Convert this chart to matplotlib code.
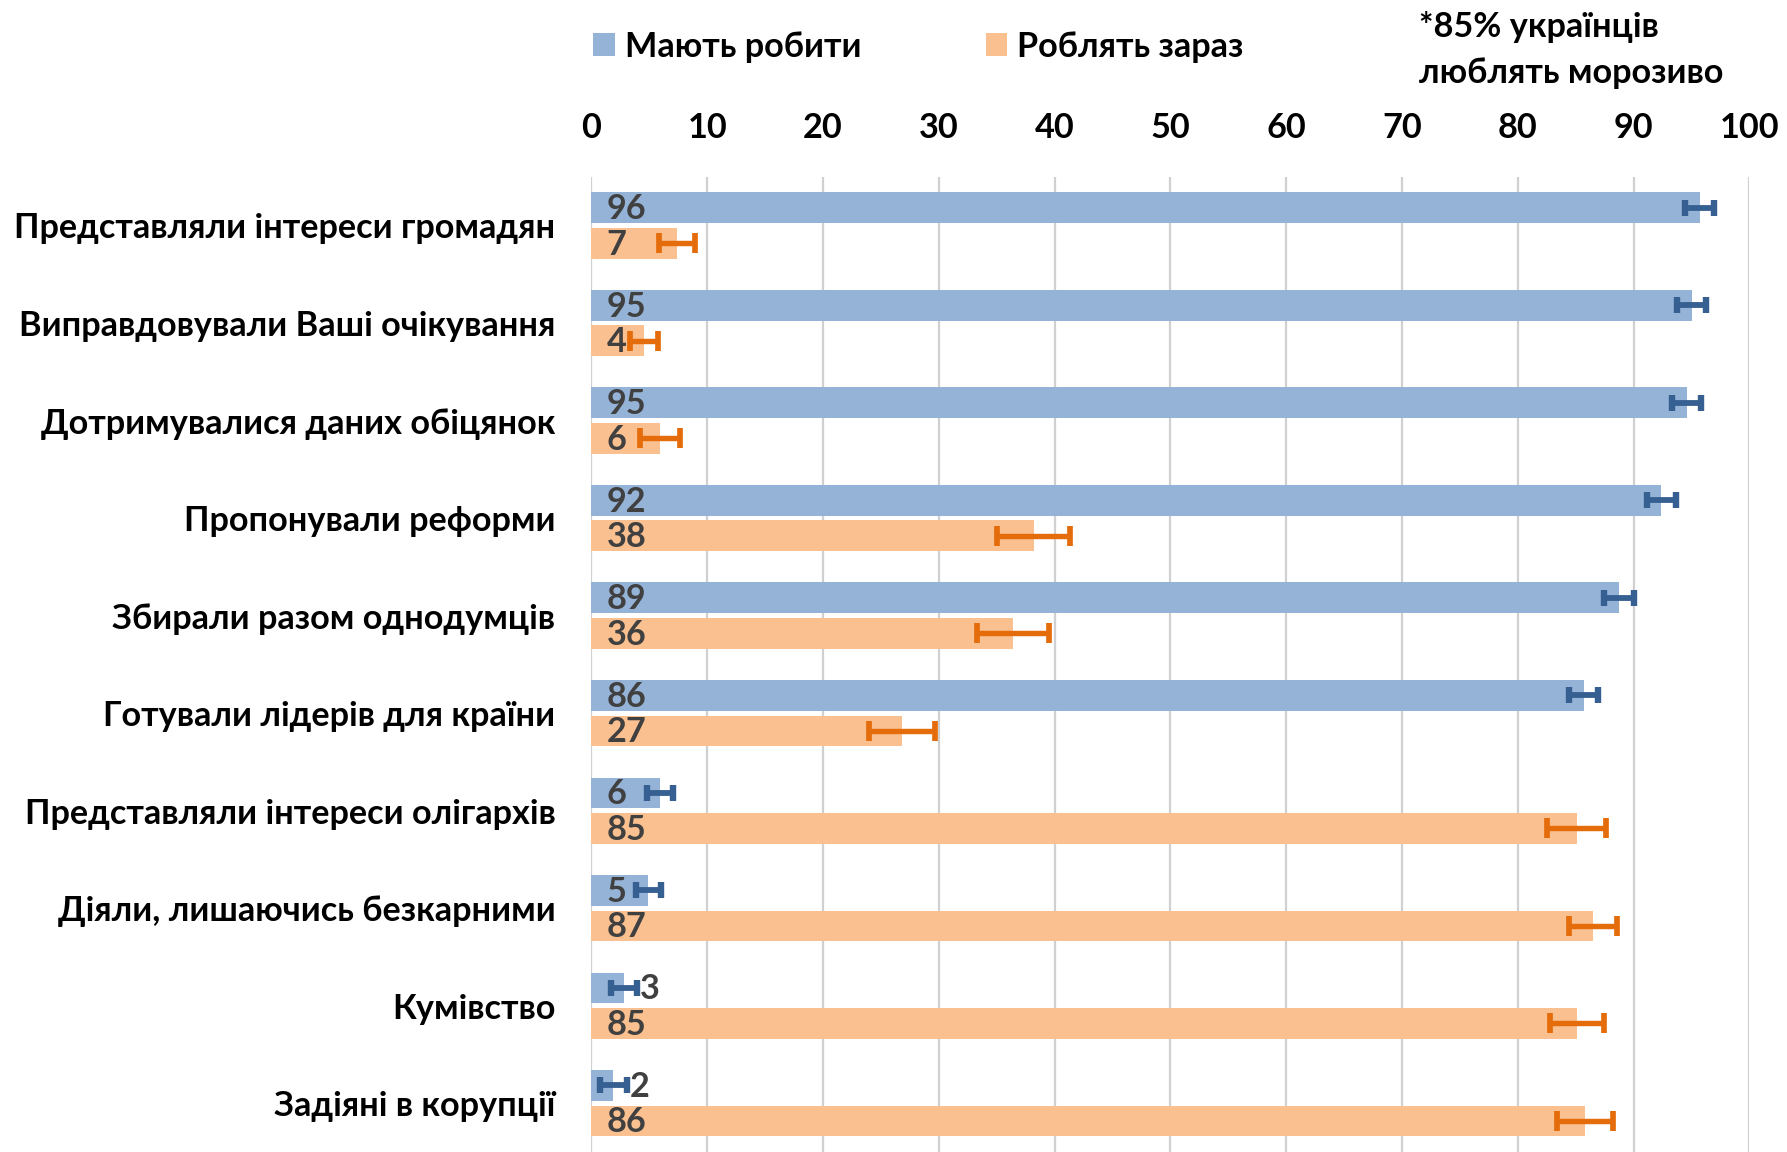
import matplotlib
matplotlib.use("Agg")
import matplotlib.pyplot as plt
import numpy as np
from matplotlib.patches import Patch

plt.rcParams['font.family'] = ['Lato', 'DejaVu Sans']
plt.rcParams['font.weight'] = 'bold'

categories = [
    "Представляли інтереси громадян",
    "Виправдовували Ваші очікування",
    "Дотримувалися даних обіцянок",
    "Пропонували реформи",
    "Збирали разом однодумців",
    "Готували лідерів для країни",
    "Представляли інтереси олігархів",
    "Діяли, лишаючись безкарними",
    "Кумівство",
    "Задіяні в корупції",
]
should = [95.7, 95.0, 94.6, 92.4, 88.7, 85.7, 5.9, 4.9, 2.8, 1.9]
should_err = [1.25, 1.25, 1.25, 1.25, 1.3, 1.25, 1.1, 1.1, 1.15, 1.15]
should_labels = ["96", "95", "95", "92", "89", "86", "6", "5", "3", "2"]
now = [7.4, 4.5, 5.9, 38.2, 36.4, 26.8, 85.1, 86.5, 85.1, 85.8]
now_err = [1.55, 1.2, 1.7, 3.15, 3.1, 2.85, 2.55, 2.05, 2.3, 2.4]
now_labels = ["7", "4", "6", "38", "36", "27", "85", "87", "85", "86"]
series_names = ["Мають робити", "Роблять зараз"]
x_ticks = [0, 10, 20, 30, 40, 50, 60, 70, 80, 90, 100]
note = "*85% українців\nлюблять морозиво"

BLUE = "#95B3D7"
ORANGE = "#FAC090"
BLUE_E = "#376092"
ORANGE_E = "#E46C0A"
TXT = "#404040"

fig = plt.figure(figsize=(17.87, 11.52), dpi=100)
ax = fig.add_axes([0.331, 0.0, 0.648, 0.8466])

y = np.arange(len(categories))
h = 0.315
off = 0.182
ax.barh(y - off, should, height=h, color=BLUE, zorder=2)
ax.barh(y + off, now, height=h, color=ORANGE, zorder=2)
ax.errorbar(should, y - off, xerr=should_err, fmt='none', ecolor=BLUE_E,
            elinewidth=4.2, capsize=6, capthick=4.6, zorder=3)
ax.errorbar(now, y + off, xerr=now_err, fmt='none', ecolor=ORANGE_E,
            elinewidth=3.9, capsize=7.5, capthick=4.1, zorder=3)

fs = 24.7
for i in range(len(categories)):
    for val, err, lab, yy in ((should[i], should_err[i], should_labels[i], y[i] - off),
                              (now[i], now_err[i], now_labels[i], y[i] + off)):
        if val >= 4:
            ax.annotate(lab, xy=(0, yy), xytext=(11, -1), textcoords='offset points',
                        ha='left', va='center', fontsize=fs, color=TXT,
                        fontweight='bold', zorder=4)
        else:
            ax.annotate(lab, xy=(val + err, yy), xytext=(2, -1), textcoords='offset points',
                        ha='left', va='center', fontsize=fs, color=TXT,
                        fontweight='bold', zorder=4)

ax.set_xlim(0, 100)
ax.set_ylim(len(categories) - 0.5, -0.5)
ax.set_xticks(x_ticks)
ax.set_xticklabels([str(t) for t in x_ticks])
ax.xaxis.tick_top()
ax.tick_params(axis='x', length=0, pad=23.5, labelsize=fs, labelcolor='black')
ax.set_yticks(y)
ax.set_yticklabels(categories)
ax.tick_params(axis='y', length=0, pad=26, labelsize=fs, labelcolor='black')
for lab in ax.get_xticklabels() + ax.get_yticklabels():
    lab.set_fontweight('bold')
ax.grid(axis='x', color='#D0D0D0', linewidth=1.6, zorder=0)
ax.set_axisbelow(True)
for s in ax.spines.values():
    s.set_visible(False)

# legend
handles = [Patch(facecolor=BLUE), Patch(facecolor=ORANGE)]
leg = fig.legend(handles, series_names, loc='center left',
                 bbox_to_anchor=(0.332, 0.9595), ncol=2, frameon=False,
                 fontsize=fs, handlelength=0.62, handleheight=0.62,
                 handletextpad=0.3, columnspacing=3.63,
                 borderpad=0, borderaxespad=0)
for t in leg.get_texts():
    t.set_fontweight('bold')

fig.text(0.794, 0.9565, note, ha='left', va='center', fontsize=fs,
         fontweight='bold', linespacing=1.55, color='black')

fig.savefig("out.png", dpi=100, facecolor='white')
